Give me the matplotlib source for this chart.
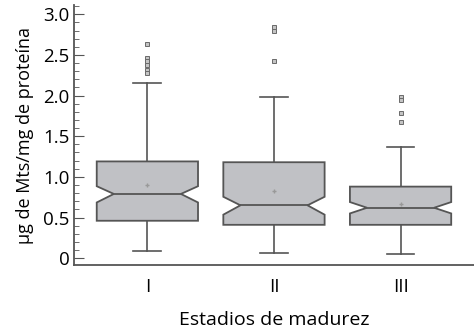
import matplotlib.pyplot as plt
from matplotlib.patches import Polygon
from matplotlib.ticker import MultipleLocator
import numpy as np

plt.rcParams['font.family'] = ['Open Sans', 'DejaVu Sans']

# box statistics
stages = ['I', 'II', 'III']
q1 = [0.46, 0.41, 0.41]
med = [0.79, 0.65, 0.62]
q3 = [1.19, 1.18, 0.88]
ci_lo = [0.685, 0.535, 0.55]
ci_hi = [0.885, 0.755, 0.69]
whis_lo = [0.09, 0.065, 0.05]
whis_hi = [2.16, 1.98, 1.37]
means = [0.90, 0.82, 0.67]
fliers = [[2.63, 2.46, 2.42, 2.38, 2.32, 2.28],
          [2.85, 2.80, 2.43],
          [1.98, 1.95, 1.79, 1.67]]

fig = plt.figure(figsize=(4.74, 3.31), dpi=100)
ax = fig.add_axes([0.156, 0.199, 0.844, 0.786])

edge = '#555555'
fill = '#c0c1c5'
w = 0.8      # box width
nd = 0.135   # notch depth (each side)
cap = 0.11

for i in range(len(stages)):
    x = i + 1
    l, r = x - w / 2, x + w / 2
    pts = [(l, q1[i]), (r, q1[i]), (r, ci_lo[i]), (r - nd, med[i]), (r, ci_hi[i]),
           (r, q3[i]), (l, q3[i]), (l, ci_hi[i]), (l + nd, med[i]), (l, ci_lo[i])]
    ax.add_patch(Polygon(pts, closed=True, facecolor=fill, edgecolor=edge, lw=1.3, zorder=2))
    ax.plot([l + nd, r - nd], [med[i], med[i]], color=edge, lw=1.3, zorder=3)
    ax.plot([x, x], [q3[i], whis_hi[i]], color=edge, lw=1.2, zorder=1)
    ax.plot([x, x], [q1[i], whis_lo[i]], color=edge, lw=1.2, zorder=1)
    ax.plot([x - cap, x + cap], [whis_hi[i], whis_hi[i]], color=edge, lw=1.2)
    ax.plot([x - cap, x + cap], [whis_lo[i], whis_lo[i]], color=edge, lw=1.2)
    ax.plot(x, means[i], marker='+', color='#999999', ms=3.5, mew=1.0, zorder=4)
    ax.plot([x] * len(fliers[i]), fliers[i], ls='none', marker='s', ms=2.8,
            mfc='#c4c4c4', mec='#6a6a6a', mew=0.7)

ax.set_xlim(0.42, 3.58)
ax.set_ylim(-0.086, 3.115)
ax.set_xticks([1, 2, 3])
ax.set_xticklabels(stages, fontsize=13.5)
ax.set_yticks([0, 0.5, 1.0, 1.5, 2.0, 2.5, 3.0])
ax.set_yticklabels(['0', '0.5', '1.0', '1.5', '2.0', '2.5', '3.0'], fontsize=13.5)
ax.yaxis.set_minor_locator(MultipleLocator(0.1))
ax.tick_params(axis='y', which='major', direction='in', length=7, color=edge, pad=3)
ax.tick_params(axis='y', which='minor', direction='in', length=3.5, color=edge)
ax.tick_params(axis='x', length=0, pad=9)

for s in ['top', 'right']:
    ax.spines[s].set_visible(False)
for s in ['left', 'bottom']:
    ax.spines[s].set_color(edge)
    ax.spines[s].set_linewidth(1.3)

ax.set_xlabel('Estadios de madurez', fontsize=14, labelpad=11)
ax.set_ylabel('µg de Mts/mg de proteína', fontsize=13, labelpad=7)

fig.savefig('out.png', dpi=100)
